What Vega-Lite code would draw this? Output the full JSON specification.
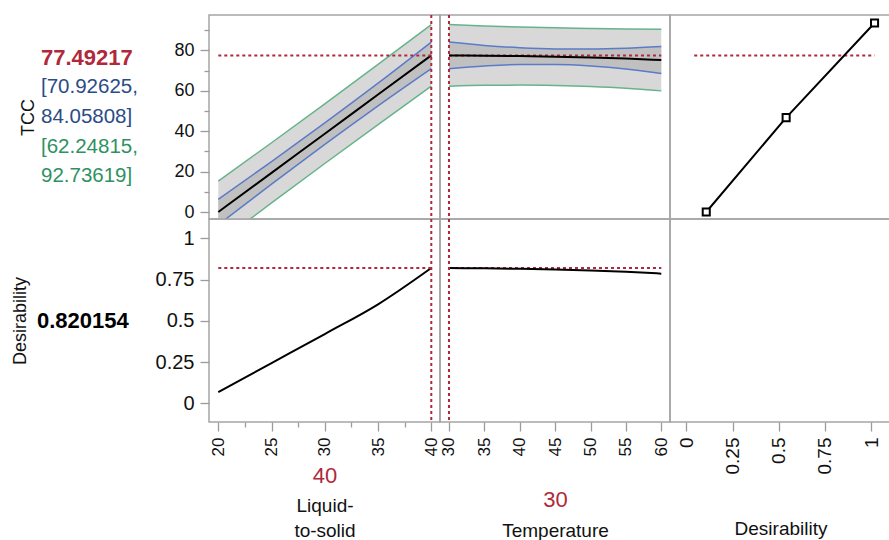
{
 "$schema": "https://vega.github.io/schema/vega-lite/v6.json",
 "padding": {"left": 10, "top": 13, "right": 0, "bottom": 0},
 "background": "white",
 "columns": 4,
 "spacing": 0,
 "bounds": "flush",
 "resolve": {"scale": {"x": "independent", "y": "independent", "color": "independent"}},
 "config": {
  "font": "Liberation Sans",
  "view": {"stroke": "#a5a5a5", "strokeWidth": 1.5},
  "axis": {"domain": false, "grid": false, "tickColor": "#9b9b9b", "tickWidth": 1.3, "tickSize": 9, "labelFont": "Liberation Sans", "labelFontSize": 17, "labelColor": "#111111", "labelPadding": 6, "labelFlush": false, "labelOverlap": false, "titleFont": "Liberation Sans", "titleFontSize": 19, "titleFontWeight": "normal", "titleColor": "#111111"},
  "text": {"font": "Liberation Sans"}
 },
 "datasets": {
  "lts": [
   {"lts": 20, "pred": 0.0, "ci_lo": -6.3, "ci_hi": 6.3, "pi_lo": -15.3, "pi_hi": 15.3, "desir": 0.068},
   {"lts": 25, "pred": 19.37, "ci_lo": 13.77, "ci_hi": 24.97, "pi_lo": 4.47, "pi_hi": 34.27, "desir": 0.244},
   {"lts": 30, "pred": 38.75, "ci_lo": 33.45, "ci_hi": 44.05, "pi_lo": 24.0, "pi_hi": 53.5, "desir": 0.42},
   {"lts": 35, "pred": 58.12, "ci_lo": 52.52, "ci_hi": 63.72, "pi_lo": 43.22, "pi_hi": 73.02, "desir": 0.6},
   {"lts": 40, "pred": 77.49217, "ci_lo": 70.92625, "ci_hi": 84.05808, "pi_lo": 62.24815, "pi_hi": 92.73619, "desir": 0.820154}
  ],
  "temp": [
   {"temp": 30, "pred": 77.49217, "ci_lo": 70.92625, "ci_hi": 84.05808, "pi_lo": 62.24815, "pi_hi": 92.73619, "desir": 0.820154},
   {"temp": 35, "pred": 77.35, "ci_lo": 72.26, "ci_hi": 82.44, "pi_lo": 62.69, "pi_hi": 92.01, "desir": 0.818},
   {"temp": 40, "pred": 77.15, "ci_lo": 72.99, "ci_hi": 81.31, "pi_lo": 62.79, "pi_hi": 91.51, "desir": 0.815},
   {"temp": 45, "pred": 76.85, "ci_lo": 73.0, "ci_hi": 80.7, "pi_lo": 62.57, "pi_hi": 91.13, "desir": 0.811},
   {"temp": 50, "pred": 76.45, "ci_lo": 72.29, "ci_hi": 80.61, "pi_lo": 62.09, "pi_hi": 90.81, "desir": 0.805},
   {"temp": 55, "pred": 75.9, "ci_lo": 70.81, "ci_hi": 80.99, "pi_lo": 61.24, "pi_hi": 90.56, "desir": 0.797},
   {"temp": 60, "pred": 75.2, "ci_lo": 68.55, "ci_hi": 81.85, "pi_lo": 59.93, "pi_hi": 90.47, "desir": 0.786}
  ],
  "dfun": [
   {"d": 0.108, "tcc": 0},
   {"d": 0.54, "tcc": 46.7},
   {"d": 1.018, "tcc": 93.5}
  ],
  "tccvals": [
   {"line": "a", "text": "77.49217", "kind": "pred"},
   {"line": "b", "text": "[70.92625,", "kind": "ci"},
   {"line": "c", "text": "84.05808]", "kind": "ci"},
   {"line": "d", "text": "[62.24815,", "kind": "pi"},
   {"line": "e", "text": "92.73619]", "kind": "pi"}
  ]
 },
 "concat": [
  {
   "width": 168, "height": 204,
   "view": {"stroke": null},
   "data": {"name": "tccvals"},
   "encoding": {
    "x": {"datum": 0, "type": "quantitative", "scale": {"domain": [0, 1]}, "axis": null},
    "y": {"field": "line", "type": "ordinal", "scale": {"type": "point", "domain": ["top", "a", "b", "c", "d", "e", "bottom"], "padding": 0.45}, "axis": null},
    "text": {"field": "text"},
    "color": {"field": "kind", "type": "nominal", "scale": {"domain": ["pred", "ci", "pi"], "range": ["#b0283a", "#2b4c86", "#2f9163"]}, "legend": null}
   },
   "layer": [
    {"transform": [{"filter": "datum.kind == 'pred'"}], "mark": {"type": "text", "align": "left", "baseline": "middle", "fontSize": 22, "fontWeight": "bold"}},
    {"transform": [{"filter": "datum.kind != 'pred'"}], "mark": {"type": "text", "align": "left", "baseline": "middle", "fontSize": 20.5}}
   ]
  },
  {
   "width": 231, "height": 204,
   "data": {"name": "lts"},
   "resolve": {"axis": {"y": "independent"}},
   "layer": [
    {"mark": {"type": "area", "color": "#d8d8d8", "opacity": 1, "clip": true, "interpolate": "monotone"},
     "encoding": {"x": {"field": "lts", "type": "quantitative", "scale": {"domain": [19.127, 40.817], "nice": false, "zero": false}, "axis": null},
      "y": {"field": "pi_lo", "type": "quantitative", "scale": {"domain": [-3.46, 97.47], "nice": false, "zero": false}, "axis": {"orient": "left", "values": [0, 20, 40, 60, 80], "format": "d", "title": "TCC", "titlePadding": 136, "titleFontSize": 18, "labelFontSize": 18}},
      "y2": {"field": "pi_hi"}}},
    {"mark": {"type": "area", "color": "#c0c0c0", "opacity": 1, "clip": true, "interpolate": "monotone"},
     "encoding": {"x": {"field": "lts", "type": "quantitative", "scale": {"domain": [19.127, 40.817], "nice": false, "zero": false}, "axis": null},
      "y": {"field": "ci_lo", "type": "quantitative", "scale": {"domain": [-3.46, 97.47], "nice": false, "zero": false}, "axis": {"orient": "left", "values": [10, 30, 50, 70, 90], "labels": false, "tickSize": 5, "title": null}},
      "y2": {"field": "ci_hi"}}},
    {"mark": {"type": "line", "color": "#66b38b", "strokeWidth": 1.5, "clip": true, "interpolate": "monotone"},
     "encoding": {"x": {"field": "lts", "type": "quantitative", "scale": {"domain": [19.127, 40.817], "nice": false, "zero": false}, "axis": null},
      "y": {"field": "pi_lo", "type": "quantitative", "scale": {"domain": [-3.46, 97.47], "nice": false, "zero": false}, "axis": null}}},
    {"mark": {"type": "line", "color": "#66b38b", "strokeWidth": 1.5, "clip": true, "interpolate": "monotone"},
     "encoding": {"x": {"field": "lts", "type": "quantitative", "scale": {"domain": [19.127, 40.817], "nice": false, "zero": false}, "axis": null},
      "y": {"field": "pi_hi", "type": "quantitative", "scale": {"domain": [-3.46, 97.47], "nice": false, "zero": false}, "axis": null}}},
    {"mark": {"type": "line", "color": "#5b7bc8", "strokeWidth": 1.5, "clip": true, "interpolate": "monotone"},
     "encoding": {"x": {"field": "lts", "type": "quantitative", "scale": {"domain": [19.127, 40.817], "nice": false, "zero": false}, "axis": null},
      "y": {"field": "ci_lo", "type": "quantitative", "scale": {"domain": [-3.46, 97.47], "nice": false, "zero": false}, "axis": null}}},
    {"mark": {"type": "line", "color": "#5b7bc8", "strokeWidth": 1.5, "clip": true, "interpolate": "monotone"},
     "encoding": {"x": {"field": "lts", "type": "quantitative", "scale": {"domain": [19.127, 40.817], "nice": false, "zero": false}, "axis": null},
      "y": {"field": "ci_hi", "type": "quantitative", "scale": {"domain": [-3.46, 97.47], "nice": false, "zero": false}, "axis": null}}},
    {"mark": {"type": "line", "color": "#000000", "strokeWidth": 2, "clip": true, "interpolate": "monotone"},
     "encoding": {"x": {"field": "lts", "type": "quantitative", "scale": {"domain": [19.127, 40.817], "nice": false, "zero": false}, "axis": null},
      "y": {"field": "pred", "type": "quantitative", "scale": {"domain": [-3.46, 97.47], "nice": false, "zero": false}, "axis": null}}},
    {"data": {"values": [{"lts": 40}]},
     "mark": {"type": "rule", "color": "#b0283a", "strokeWidth": 2, "strokeDash": [3, 3]},
     "encoding": {"x": {"field": "lts", "type": "quantitative", "scale": {"domain": [19.127, 40.817], "nice": false, "zero": false}, "axis": null}}},
    {"data": {"values": [{"from": 20, "to": 40, "tcc": 77.49217}]},
     "mark": {"type": "rule", "color": "#b0283a", "strokeWidth": 2, "strokeDash": [3, 3]},
     "encoding": {"x": {"field": "from", "type": "quantitative", "scale": {"domain": [19.127, 40.817], "nice": false, "zero": false}, "axis": null},
      "x2": {"field": "to"},
      "y": {"field": "tcc", "type": "quantitative", "scale": {"domain": [-3.46, 97.47], "nice": false, "zero": false}, "axis": null}}}
   ]
  },
  {
   "width": 230, "height": 204,
   "data": {"name": "temp"},
   "layer": [
    {"mark": {"type": "area", "color": "#d8d8d8", "opacity": 1, "clip": true, "interpolate": "monotone"},
     "encoding": {"x": {"field": "temp", "type": "quantitative", "scale": {"domain": [28.73, 61.23], "nice": false, "zero": false}, "axis": null},
      "y": {"field": "pi_lo", "type": "quantitative", "scale": {"domain": [-3.46, 97.47], "nice": false, "zero": false}, "axis": null},
      "y2": {"field": "pi_hi"}}},
    {"mark": {"type": "area", "color": "#c0c0c0", "opacity": 1, "clip": true, "interpolate": "monotone"},
     "encoding": {"x": {"field": "temp", "type": "quantitative", "scale": {"domain": [28.73, 61.23], "nice": false, "zero": false}, "axis": null},
      "y": {"field": "ci_lo", "type": "quantitative", "scale": {"domain": [-3.46, 97.47], "nice": false, "zero": false}, "axis": null},
      "y2": {"field": "ci_hi"}}},
    {"mark": {"type": "line", "color": "#66b38b", "strokeWidth": 1.5, "clip": true, "interpolate": "monotone"},
     "encoding": {"x": {"field": "temp", "type": "quantitative", "scale": {"domain": [28.73, 61.23], "nice": false, "zero": false}, "axis": null},
      "y": {"field": "pi_lo", "type": "quantitative", "scale": {"domain": [-3.46, 97.47], "nice": false, "zero": false}, "axis": null}}},
    {"mark": {"type": "line", "color": "#66b38b", "strokeWidth": 1.5, "clip": true, "interpolate": "monotone"},
     "encoding": {"x": {"field": "temp", "type": "quantitative", "scale": {"domain": [28.73, 61.23], "nice": false, "zero": false}, "axis": null},
      "y": {"field": "pi_hi", "type": "quantitative", "scale": {"domain": [-3.46, 97.47], "nice": false, "zero": false}, "axis": null}}},
    {"mark": {"type": "line", "color": "#5b7bc8", "strokeWidth": 1.5, "clip": true, "interpolate": "monotone"},
     "encoding": {"x": {"field": "temp", "type": "quantitative", "scale": {"domain": [28.73, 61.23], "nice": false, "zero": false}, "axis": null},
      "y": {"field": "ci_lo", "type": "quantitative", "scale": {"domain": [-3.46, 97.47], "nice": false, "zero": false}, "axis": null}}},
    {"mark": {"type": "line", "color": "#5b7bc8", "strokeWidth": 1.5, "clip": true, "interpolate": "monotone"},
     "encoding": {"x": {"field": "temp", "type": "quantitative", "scale": {"domain": [28.73, 61.23], "nice": false, "zero": false}, "axis": null},
      "y": {"field": "ci_hi", "type": "quantitative", "scale": {"domain": [-3.46, 97.47], "nice": false, "zero": false}, "axis": null}}},
    {"data": {"values": [{"from": 30, "to": 60, "tcc": 77.49217}]},
     "mark": {"type": "rule", "color": "#b0283a", "strokeWidth": 2, "strokeDash": [3, 3]},
     "encoding": {"x": {"field": "from", "type": "quantitative", "scale": {"domain": [28.73, 61.23], "nice": false, "zero": false}, "axis": null},
      "x2": {"field": "to"},
      "y": {"field": "tcc", "type": "quantitative", "scale": {"domain": [-3.46, 97.47], "nice": false, "zero": false}, "axis": null}}},
    {"mark": {"type": "line", "color": "#000000", "strokeWidth": 2, "clip": true, "interpolate": "monotone"},
     "encoding": {"x": {"field": "temp", "type": "quantitative", "scale": {"domain": [28.73, 61.23], "nice": false, "zero": false}, "axis": null},
      "y": {"field": "pred", "type": "quantitative", "scale": {"domain": [-3.46, 97.47], "nice": false, "zero": false}, "axis": null}}},
    {"data": {"values": [{"temp": 30}]},
     "mark": {"type": "rule", "color": "#b0283a", "strokeWidth": 2, "strokeDash": [3, 3]},
     "encoding": {"x": {"field": "temp", "type": "quantitative", "scale": {"domain": [28.73, 61.23], "nice": false, "zero": false}, "axis": null}}}
   ]
  },
  {
   "width": 221, "height": 204,
   "data": {"name": "dfun"},
   "layer": [
    {"data": {"values": [{"from": 0.043, "to": 1.018, "tcc": 77.49217}]},
     "mark": {"type": "rule", "color": "#b0283a", "strokeWidth": 2, "strokeDash": [3, 3]},
     "encoding": {"x": {"field": "from", "type": "quantitative", "scale": {"domain": [-0.088, 1.107], "nice": false, "zero": false}, "axis": null},
      "x2": {"field": "to"},
      "y": {"field": "tcc", "type": "quantitative", "scale": {"domain": [-3.46, 97.47], "nice": false, "zero": false}, "axis": null}}},
    {"mark": {"type": "line", "color": "#000000", "strokeWidth": 2},
     "encoding": {"x": {"field": "d", "type": "quantitative", "scale": {"domain": [-0.088, 1.107], "nice": false, "zero": false}, "axis": null},
      "y": {"field": "tcc", "type": "quantitative", "scale": {"domain": [-3.46, 97.47], "nice": false, "zero": false}, "axis": null}}},
    {"mark": {"type": "point", "shape": "square", "size": 50, "filled": true, "fill": "#ffffff", "stroke": "#000000", "strokeWidth": 2, "opacity": 1},
     "encoding": {"x": {"field": "d", "type": "quantitative", "scale": {"domain": [-0.088, 1.107], "nice": false, "zero": false}, "axis": null},
      "y": {"field": "tcc", "type": "quantitative", "scale": {"domain": [-3.46, 97.47], "nice": false, "zero": false}, "axis": null}}}
   ]
  },
  {
   "width": 168, "height": 203,
   "view": {"stroke": null},
   "data": {"values": [{"text": "0.820154"}]},
   "mark": {"type": "text", "align": "left", "baseline": "middle", "fontSize": 22, "fontWeight": "bold", "color": "#000000", "dx": -4},
   "encoding": {
    "x": {"datum": 0, "type": "quantitative", "scale": {"domain": [0, 1]}, "axis": null},
    "text": {"field": "text"}
   }
  },
  {
   "width": 231, "height": 203,
   "data": {"name": "lts"},
   "resolve": {"axis": {"x": "independent", "y": "independent"}},
   "layer": [
    {"mark": {"type": "line", "color": "#000000", "strokeWidth": 2, "interpolate": "monotone"},
     "encoding": {"x": {"field": "lts", "type": "quantitative", "scale": {"domain": [19.127, 40.817], "nice": false, "zero": false}, "axis": {"orient": "bottom", "values": [20, 25, 30, 35, 40], "format": "d", "labelAngle": 270, "title": ["Liquid-", "to-solid"], "titlePadding": 41, "titleLineHeight": 25, "titleFontSize": 19}},
      "y": {"field": "desir", "type": "quantitative", "scale": {"domain": [-0.113, 1.117], "nice": false, "zero": false}, "axis": {"orient": "left", "values": [0, 0.25, 0.5, 0.75, 1], "format": ".2~f", "title": "Desirability", "titlePadding": 126, "titleFontSize": 18, "labelFontSize": 20}}}},
    {"data": {"values": [{"lts": 40}]},
     "mark": {"type": "rule", "color": "#b0283a", "strokeWidth": 2, "strokeDash": [3, 3]},
     "encoding": {"x": {"field": "lts", "type": "quantitative", "scale": {"domain": [19.127, 40.817], "nice": false, "zero": false}, "axis": {"orient": "bottom", "values": [22.5, 27.5, 32.5, 37.5], "labels": false, "tickSize": 5, "title": null}}}},
    {"data": {"values": [{"from": 20, "to": 40, "d": 0.820154}]},
     "mark": {"type": "rule", "color": "#b0283a", "strokeWidth": 2, "strokeDash": [3, 3]},
     "encoding": {"x": {"field": "from", "type": "quantitative", "scale": {"domain": [19.127, 40.817], "nice": false, "zero": false}, "axis": {"orient": "bottom", "labels": false, "ticks": false, "title": "40", "titleColor": "#b0283a", "titleFontSize": 22, "titlePadding": 43}},
      "x2": {"field": "to"},
      "y": {"field": "d", "type": "quantitative", "scale": {"domain": [-0.113, 1.117], "nice": false, "zero": false}, "axis": null}}}
   ]
  },
  {
   "width": 230, "height": 203,
   "data": {"name": "temp"},
   "resolve": {"axis": {"x": "independent"}},
   "layer": [
    {"data": {"values": [{"from": 30, "to": 60, "d": 0.820154}]},
     "mark": {"type": "rule", "color": "#b0283a", "strokeWidth": 2, "strokeDash": [3, 3]},
     "encoding": {"x": {"field": "from", "type": "quantitative", "scale": {"domain": [28.73, 61.23], "nice": false, "zero": false}, "axis": {"orient": "bottom", "labels": false, "ticks": false, "title": "30", "titleColor": "#b0283a", "titleFontSize": 22, "titlePadding": 67}},
      "x2": {"field": "to"},
      "y": {"field": "d", "type": "quantitative", "scale": {"domain": [-0.113, 1.117], "nice": false, "zero": false}, "axis": null}}},
    {"mark": {"type": "line", "color": "#000000", "strokeWidth": 2, "interpolate": "monotone"},
     "encoding": {"x": {"field": "temp", "type": "quantitative", "scale": {"domain": [28.73, 61.23], "nice": false, "zero": false}, "axis": {"orient": "bottom", "values": [30, 35, 40, 45, 50, 55, 60], "format": "d", "labelAngle": 270, "title": "Temperature", "titlePadding": 66, "titleFontSize": 19}},
      "y": {"field": "desir", "type": "quantitative", "scale": {"domain": [-0.113, 1.117], "nice": false, "zero": false}, "axis": null}}},
    {"data": {"values": [{"temp": 30}]},
     "mark": {"type": "rule", "color": "#b0283a", "strokeWidth": 2, "strokeDash": [3, 3]},
     "encoding": {"x": {"field": "temp", "type": "quantitative", "scale": {"domain": [28.73, 61.23], "nice": false, "zero": false}, "axis": null}}}
   ]
  },
  {
   "width": 221, "height": 203,
   "data": {"values": []},
   "mark": "point",
   "encoding": {"x": {"field": "d", "type": "quantitative", "scale": {"domain": [-0.088, 1.107], "nice": false, "zero": false}, "axis": {"orient": "bottom", "values": [0, 0.25, 0.5, 0.75, 1], "format": ".2~f", "labelAngle": 270, "labelFontSize": 19, "title": "Desirability", "titlePadding": 46, "titleFontSize": 19}}}
  }
 ]
}
